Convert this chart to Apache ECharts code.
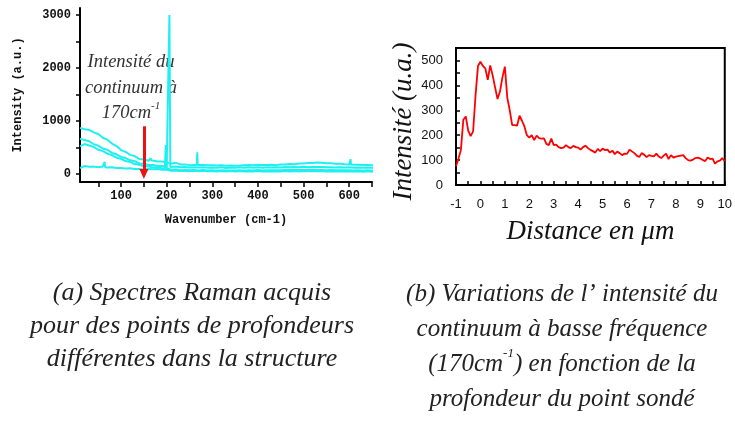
<!DOCTYPE html>
<html>
<head>
<meta charset="UTF-8">
<title>Spectres Raman</title>
<style>
  html, body { margin: 0; padding: 0; background: #fff; }
  #main { width: 735px; height: 423px; }
</style>
</head>
<body>
<div id="main"></div>
<script src="https://cdn.jsdelivr.net/npm/echarts@6/dist/echarts.min.js"></script>
<script>
// (a) spectres Raman : nombre d'onde commun + 4 spectres
var wavenumbers = [10, 20, 30, 40, 50, 60, 70, 80, 90, 100, 110, 120, 130, 140, 150, 160, 170, 180, 190, 200,
  210, 220, 230, 240, 250, 260, 270, 280, 290, 300, 310, 320, 330, 340, 350, 360, 370, 380, 390, 400,
  410, 420, 430, 440, 450, 460, 470, 480, 490, 500, 510, 520, 530, 540, 550, 560, 570, 580, 590, 600,
  610, 620, 630, 640, 650, 660];
var spectreA = [870, 845, 832, 785, 756, 684, 648, 575, 528, 452,
  418, 362, 338, 284, 276, 250, 270, 236, 236, 220,
  198, 210, 182, 182, 168, 172, 168, 170, 164, 168,
  160, 166, 156, 163, 158, 162, 168, 170, 164, 174,
  170, 172, 174, 168, 180, 178, 188, 186, 198, 200,
  210, 208, 218, 212, 204, 204, 194, 192, 184, 182,
  174, 174, 170, 170, 166, 168];
var spectreB = [665, 640, 618, 562, 536, 482, 458, 398, 372, 322,
  302, 258, 242, 198, 194, 170, 170, 150, 152, 138,
  138, 142, 128, 132, 122, 128, 124, 126, 120, 124,
  118, 126, 116, 124, 118, 126, 118, 128, 120, 126,
  120, 128, 122, 130, 124, 132, 126, 134, 128, 136,
  130, 138, 132, 134, 128, 130, 124, 126, 122, 126,
  120, 124, 118, 122, 118, 120];
var spectreC = [520, 565, 538, 512, 458, 432, 384, 356, 308, 288,
  244, 228, 188, 176, 148, 144, 126, 124, 108, 108,
  80, 84, 72, 78, 70, 76, 68, 74, 66, 72,
  64, 72, 66, 68, 68, 70, 64, 72, 66, 74,
  68, 70, 70, 72, 72, 74, 74, 76, 76, 78,
  76, 82, 76, 78, 72, 74, 72, 72, 70, 72,
  66, 72, 64, 70, 64, 68];
var spectreD = [110, 152, 136, 140, 128, 142, 122, 126, 114, 116,
  104, 108, 94, 96, 84, 94, 92, 94, 82, 82,
  60, 62, 56, 62, 54, 60, 53, 60, 52, 58,
  50, 57, 50, 56, 48, 55, 48, 54, 48, 55,
  48, 54, 47, 54, 48, 55, 49, 56, 50, 57,
  51, 58, 52, 54, 48, 54, 47, 53, 46, 52,
  46, 52, 45, 51, 45, 50];
// raies fines [nombre d'onde, intensité]
var raiesA = [[164, 258], [165, 300], [166, 258], [266, 170], [267, 410], [268, 172], [602, 180], [603, 280], [604, 178]];
var raiesB = [[204, 140], [206, 3000], [208, 135]];
var raiesC = [[196, 108], [198, 545], [200, 105]];
var raiesD = [[63, 128], [64, 230], [65, 128]];
var fleche = [150, 900]; // départ de la flèche (170 cm-1)

// (b) intensité du continuum en fonction de la distance
var distances = [-1.0, -0.9, -0.8, -0.7, -0.6, -0.5, -0.4, -0.3, -0.2, -0.1,
  0.0, 0.1, 0.2, 0.3, 0.4, 0.5, 0.6, 0.7, 0.8, 0.9,
  1.0, 1.1, 1.2, 1.3, 1.4, 1.5, 1.6, 1.7, 1.8, 1.9,
  2.0, 2.1, 2.2, 2.3, 2.4, 2.5, 2.6, 2.7, 2.8, 2.9,
  3.0, 3.1, 3.2, 3.3, 3.4, 3.5, 3.6, 3.7, 3.8, 3.9,
  4.0, 4.1, 4.2, 4.3, 4.4, 4.5, 4.6, 4.7, 4.8, 4.9,
  5.0, 5.1, 5.2, 5.3, 5.4, 5.5, 5.6, 5.7, 5.8, 5.9,
  6.0, 6.1, 6.2, 6.3, 6.4, 6.5, 6.6, 6.7, 6.8, 6.9,
  7.0, 7.1, 7.2, 7.3, 7.4, 7.5, 7.6, 7.7, 7.8, 7.9,
  8.0, 8.1, 8.2, 8.3, 8.4, 8.5, 8.6, 8.7, 8.8, 8.9,
  9.0, 9.1, 9.2, 9.3, 9.4, 9.5, 9.6, 9.7, 9.8, 9.9, 10.0];
var intensites = [75, 105, 140, 262, 275, 218, 196, 215, 360, 478,
  495, 478, 468, 422, 480, 440, 392, 345, 375, 432,
  475, 350, 300, 240, 240, 238, 278, 258, 235, 200,
  190, 200, 180, 198, 188, 186, 187, 165, 160, 186,
  160, 162, 152, 148, 150, 160, 152, 148, 157, 152,
  150, 142, 152, 158, 148, 141, 136, 130, 145, 136,
  146, 140, 142, 130, 138, 124, 134, 128, 120, 126,
  125, 142, 135, 128, 118, 112, 128, 122, 112, 120,
  117, 115, 126, 114, 108, 118, 126, 104, 120, 110,
  114, 116, 118, 120, 108, 100, 98, 102, 108, 110,
  106, 100, 96, 110, 104, 106, 86, 95, 98, 108, 96];

var chart = echarts.init(document.getElementById('main'));

function spectre(ys, raies) {
  var pts = wavenumbers.map(function (x, i) { return [x, ys[i]]; }).concat(raies);
  pts.sort(function (a, b) { return a[0] - b[0]; });
  return pts;
}

var mono = 'Liberation Mono';
var serif = 'Liberation Serif';
var cyan = '#1ef0f0';

var ligneSpectre = function (data) {
  return {
    type: 'line', xAxisIndex: 0, yAxisIndex: 0,
    data: data, showSymbol: false, silent: true,
    lineStyle: { color: cyan, width: 2 }
  };
};

var series = [
  ligneSpectre(spectre(spectreD, raiesD)),
  ligneSpectre(spectre(spectreC, raiesC)),
  ligneSpectre(spectre(spectreB, raiesB)),
  ligneSpectre(spectre(spectreA, raiesA)),
  {
    // flèche rouge
    type: 'line', xAxisIndex: 0, yAxisIndex: 0, data: [], silent: true,
    markLine: {
      silent: true,
      symbol: ['none', 'triangle'],
      symbolSize: [9, 10],
      label: { show: false },
      lineStyle: { color: '#ee1111', width: 3, type: 'solid' },
      data: [[{ coord: fleche }, { coord: [fleche[0], 0] }]]
    }
  },
  {
    type: 'line', xAxisIndex: 1, yAxisIndex: 1,
    data: distances.map(function (d, i) { return [d, intensites[i]]; }),
    showSymbol: false, silent: true,
    lineStyle: { color: '#ff0000', width: 1.8 }
  }
];

var option = {
  animation: false,
  backgroundColor: '#fff',
  grid: [
    { left: 80, right: 363, top: 8, bottom: 241 },
    { left: 456, right: 7, top: 48, bottom: 238, show: true, borderColor: '#000', borderWidth: 2 }
  ],
  xAxis: [
    {
      gridIndex: 0, type: 'value', min: 10, max: 650,
      name: 'Wavenumber (cm-1)', nameLocation: 'middle', nameGap: 32,
      nameTextStyle: { fontFamily: mono, fontWeight: 'bold', fontSize: 12, color: '#111' },
      axisLine: { onZero: false, lineStyle: { color: '#000', width: 2 } },
      axisTick: { customValues: [50, 100, 150, 200, 250, 300, 350, 400, 450, 500, 550, 600, 650], length: 5, lineStyle: { color: '#000', width: 1.5 } },
      axisLabel: {
        customValues: [100, 200, 300, 400, 500, 600], margin: 8, fontFamily: mono, fontWeight: 'bold', fontSize: 12, color: '#111',
        formatter: function (v) { return String(v); }
      },
      splitLine: { show: false }
    },
    {
      gridIndex: 1, type: 'value', min: -1, max: 10, interval: 0.5,
      name: 'Distance en μm', nameLocation: 'middle', nameGap: 33,
      nameTextStyle: { fontFamily: serif, fontStyle: 'italic', fontSize: 27, color: '#111' },
      axisLine: { onZero: false, lineStyle: { color: '#000', width: 2 } },
      axisTick: { inside: true, length: 4, lineStyle: { color: '#000', width: 1.5 } },
      axisLabel: {
        margin: 13, fontFamily: 'Liberation Sans', fontSize: 13, color: '#111',
        formatter: function (v) { return Number.isInteger(v) ? String(v) : ''; }
      },
      splitLine: { show: false }
    }
  ],
  yAxis: [
    {
      gridIndex: 0, type: 'value', min: -150, max: 3130,
      name: 'Intensity (a.u.)', nameLocation: 'middle', nameGap: 56,
      nameTextStyle: { fontFamily: mono, fontWeight: 'bold', fontSize: 12, color: '#111' },
      axisLine: { show: true, onZero: false, lineStyle: { color: '#000', width: 2 } },
      axisTick: { show: true, customValues: [0, 500, 1000, 1500, 2000, 2500, 3000], length: 4, lineStyle: { color: '#000', width: 1.5 } },
      axisLabel: {
        customValues: [0, 1000, 2000, 3000], margin: 9, fontFamily: mono, fontWeight: 'bold', fontSize: 12, color: '#111',
        formatter: function (v) { return String(v); }
      },
      splitLine: { show: false }
    },
    {
      gridIndex: 1, type: 'value', min: 0, max: 550, interval: 50,
      name: 'Intensité (u.a.)', nameLocation: 'middle', nameGap: 37,
      nameTextStyle: { fontFamily: serif, fontStyle: 'italic', fontSize: 27, color: '#111', padding: [0, 10, 0, 0] },
      axisLine: { show: true, onZero: false, lineStyle: { color: '#000', width: 2 } },
      axisTick: { show: true, inside: true, length: 4, lineStyle: { color: '#000', width: 1.5 } },
      axisLabel: {
        margin: 13, fontFamily: 'Liberation Sans', fontSize: 13, color: '#111',
        formatter: function (v) { return v % 100 === 0 ? String(v) : ''; }
      },
      splitLine: { show: false }
    }
  ],
  graphic: [
    {
      type: 'text', x: 131, y: 88, silent: true,
      style: {
        text: '{a|Intensité du}\n{a|continuum à}\n{a|170cm}{s|-1}',
        align: 'center', verticalAlign: 'middle',
        rich: {
          a: { fontFamily: serif, fontStyle: 'italic', fontSize: 18.5, lineHeight: 25.5, fill: '#333' },
          s: { fontFamily: serif, fontStyle: 'italic', fontSize: 11, lineHeight: 25.5, verticalAlign: 'top', fill: '#333' }
        }
      }
    },
    {
      type: 'text', x: 192, y: 326, silent: true,
      style: {
        text: '(a) Spectres Raman acquis\npour des points de profondeurs\ndifférentes dans la structure',
        align: 'center', verticalAlign: 'middle',
        fontFamily: serif, fontStyle: 'italic', fontSize: 26, lineHeight: 33, fill: '#222'
      }
    },
    {
      type: 'text', x: 562, y: 347, silent: true,
      style: {
        text: '{a|(b) Variations de l’ intensité du}\n{a|continuum à basse fréquence}\n{a|(170cm}{s|-1}{a|) en fonction de la}\n{a|profondeur du point sondé}',
        align: 'center', verticalAlign: 'middle',
        rich: {
          a: { fontFamily: serif, fontStyle: 'italic', fontSize: 25, lineHeight: 35, fill: '#222' },
          s: { fontFamily: serif, fontStyle: 'italic', fontSize: 13, lineHeight: 35, verticalAlign: 'top', fill: '#222' }
        }
      }
    }
  ],
  series: series
};

chart.setOption(option);
</script>
</body>
</html>
